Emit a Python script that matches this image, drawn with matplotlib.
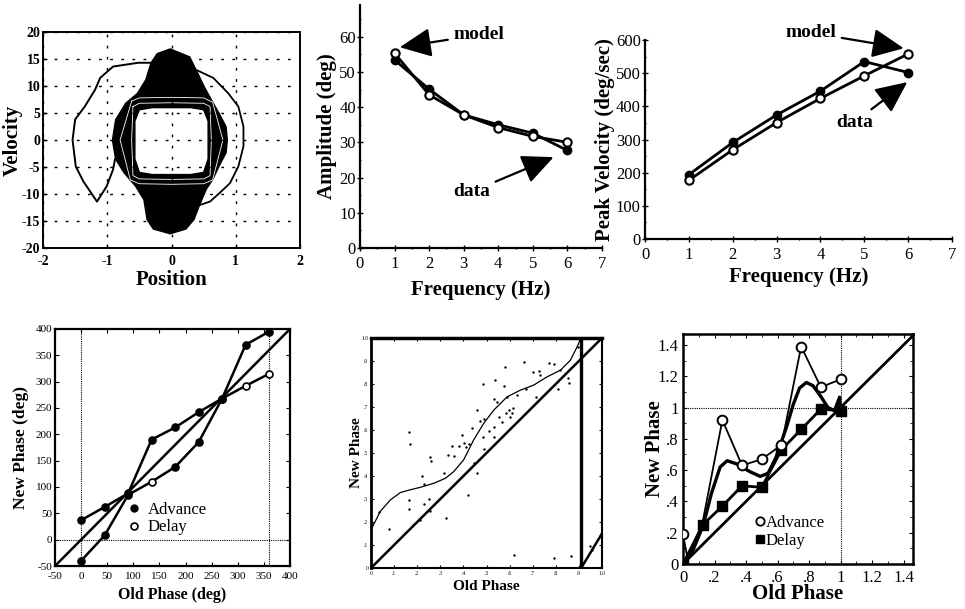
import matplotlib
matplotlib.use("Agg")
import matplotlib.pyplot as plt
from matplotlib.lines import Line2D
from matplotlib.ticker import MultipleLocator

plt.rcParams["font.family"] = ["Liberation Serif", "DejaVu Serif"]
plt.rcParams["xtick.direction"] = "in"
plt.rcParams["ytick.direction"] = "in"
plt.rcParams["axes.unicode_minus"] = False

W, H = 965, 609

# ---- panel 1: phase portrait (position vs velocity) ----
blob_x = [-0.02, 0.29, 0.42, 0.52, 0.63, 0.75, 0.86, 0.88, 0.86, 0.75, 0.65, 0.55, 0.44,
          0.36, 0.23, -0.02, -0.29, -0.39, -0.44, -0.57, -0.75, -0.88, -0.93, -0.88,
          -0.72, -0.54, -0.41, -0.33, -0.23]
blob_y = [17.0, 15.5, 12.4, 9.9, 7.5, 5.0, 2.5, 0.0, -2.4, -4.9, -7.4, -9.2, -12.3,
          -14.8, -16.6, -17.5, -16.6, -14.8, -11.1, -8.6, -6.1, -3.6, 0.0, 3.8,
          6.9, 8.7, 11.2, 14.3, 16.1]
hole_x = [-0.57, -0.5, -0.3, 0.0, 0.3, 0.5, 0.57, 0.57, 0.5, 0.3, 0.0, -0.3, -0.5, -0.57]
hole_y = [3.5, 5.6, 6.0, 6.0, 6.0, 5.6, 3.5, -3.5, -6.0, -6.4, -6.4, -6.4, -6.0, -3.5]
ring1_x = [-0.6, -0.5, 0.0, 0.5, 0.6, 0.62, 0.6, 0.5, 0.0, -0.5, -0.6, -0.62, -0.6]
ring1_y = [6.2, 6.8, 6.9, 6.8, 6.2, 0.0, -6.6, -7.2, -7.3, -7.2, -6.6, 0.0, 6.2]
ring2_x = [-0.62, -0.5, 0.0, 0.5, 0.64, 0.8, 0.64, 0.5, 0.0, -0.5, -0.64, -0.8, -0.62]
ring2_y = [7.2, 7.8, 7.9, 7.8, 7.0, 0.0, -7.4, -8.1, -8.2, -8.1, -7.4, 0.0, 7.2]
cres_x = [-0.3, -0.52, -0.91, -1.11, -1.19, -1.35, -1.50, -1.54, -1.49, -1.37, -1.16,
          -1.01, -0.91, -0.88]
cres_y = [14.3, 14.3, 13.6, 11.5, 9.3, 6.2, 3.8, 0.0, -4.9, -7.7, -11.4, -8.6, -5.5, -3.6]
circ_x = [0.4, 0.65, 0.88, 1.04, 1.12, 1.12, 1.04, 0.91, 0.75, 0.6, 0.45]
circ_y = [12.9, 11.5, 8.7, 6.2, 2.5, -1.2, -4.9, -8.0, -9.8, -11.4, -12.0]

# ---- panel 2: amplitude vs frequency ----
freq = [1, 2, 3, 4, 5, 6]
amp_model = [55.3, 43.5, 37.8, 34.2, 31.7, 30.0]
amp_data = [53.4, 45.1, 37.8, 35.0, 32.6, 27.7]

# ---- panel 3: peak velocity vs frequency ----
vel_model = [177, 269, 351, 424, 492, 558]
vel_data = [194, 291, 374, 446, 535, 502]

# ---- panel 4: phase transition curve (deg) ----
old_deg = [0, 45, 90, 135, 180, 225, 270, 315, 360]
curve_a = [37, 62, 88, 190, 213, 242, 268, 292, 315]
curve_a_filled = [True, True, True, True, True, True, True, False, False]
curve_b = [-40, 8, 85, 110, 138, 185, 268, 370, 395]
curve_b_filled = [True, True, True, False, True, True, True, True, True]

# ---- panel 5: scattered phase resets + smooth fit ----
sc_x = [0.033, 0.076, 0.163, 0.170, 0.163, 0.163, 0.221, 0.228, 0.228, 0.214, 0.250, 0.257,
        0.260, 0.257, 0.326, 0.317, 0.332, 0.351, 0.358, 0.380, 0.394, 0.404, 0.413, 0.423,
        0.437, 0.420, 0.447, 0.459, 0.459, 0.473, 0.488, 0.485, 0.485, 0.488, 0.509, 0.531,
        0.531, 0.534, 0.538, 0.545, 0.553, 0.567, 0.574, 0.581, 0.586, 0.596, 0.603, 0.610,
        0.615, 0.589, 0.632, 0.661, 0.669, 0.700, 0.726, 0.733, 0.716, 0.769, 0.791, 0.808,
        0.856, 0.851, 0.820, 0.618, 0.791, 0.866, 0.895, 0.947, 0.957]
sc_y = [0.243, 0.169, 0.592, 0.539, 0.296, 0.256, 0.400, 0.364, 0.279, 0.210, 0.301, 0.484,
        0.467, 0.246, 0.217, 0.412, 0.491, 0.530, 0.487, 0.530, 0.578, 0.542, 0.527, 0.539,
        0.607, 0.318, 0.455, 0.412, 0.686, 0.640, 0.646, 0.798, 0.571, 0.516, 0.597, 0.733,
        0.614, 0.571, 0.819, 0.723, 0.658, 0.636, 0.791, 0.874, 0.672, 0.686, 0.658, 0.675,
        0.694, 0.744, 0.751, 0.896, 0.777, 0.853, 0.857, 0.838, 0.744, 0.892, 0.889, 0.780,
        0.805, 0.824, 0.860, 0.058, 0.043, 0.051, 0.961, 0.094, 0.078]
fit_x = [0.0, 0.04, 0.084, 0.127, 0.17, 0.214, 0.271, 0.322, 0.358, 0.401, 0.444, 0.488,
         0.531, 0.589, 0.646, 0.704, 0.762, 0.82, 0.863, 0.892, 0.906]
fit_y = [0.166, 0.246, 0.296, 0.328, 0.34, 0.351, 0.368, 0.39, 0.419, 0.47, 0.556, 0.629,
         0.686, 0.744, 0.773, 0.795, 0.831, 0.86, 0.903, 0.961, 0.993]

# ---- panel 6: phase transition curve (normalised) ----
adv_x = [0.0, 0.03, 0.125, 0.25, 0.375, 0.5, 0.625, 0.75, 0.875, 1.0]
adv_y = [0.19, 0.03, 0.27, 0.92, 0.63, 0.67, 0.76, 1.39, 1.13, 1.18]
adv_mark_x = [0.0, 0.25, 0.375, 0.5, 0.625, 0.75, 0.875, 1.0]
adv_mark_y = [0.19, 0.92, 0.63, 0.67, 0.76, 1.39, 1.13, 1.18]
del_x = [0.0, 0.125, 0.25, 0.375, 0.5, 0.625, 0.75, 0.875, 1.0]
del_y = [0.0, 0.25, 0.37, 0.50, 0.49, 0.73, 0.86, 0.99, 0.98]
smooth_x = [0.0, 0.06, 0.109, 0.137, 0.18, 0.236, 0.28, 0.34, 0.425, 0.49, 0.54, 0.59,
            0.657, 0.70, 0.74, 0.783, 0.825, 0.878, 0.92, 0.962, 0.994, 1.0]
smooth_y = [0.0, 0.08, 0.20, 0.28, 0.45, 0.62, 0.66, 0.64, 0.59, 0.56, 0.58, 0.68,
            0.875, 1.02, 1.125, 1.16, 1.14, 1.066, 1.0, 0.98, 1.066, 0.99]


def axes_px(fig, x0, y0, x1, y1):
    return fig.add_axes([x0 / W, 1 - y1 / H, (x1 - x0) / W, (y1 - y0) / H])


def arrow(ax, text, xy, xytext, ha="left"):
    ax.annotate(text, xy=xy, xytext=xytext, fontsize=14, fontweight="bold",
                ha=ha, va="center", annotation_clip=False,
                arrowprops=dict(arrowstyle="-|>,head_length=1.3,head_width=0.6",
                                color="black", lw=1.6, shrinkA=2, shrinkB=0,
                                mutation_scale=15))


fig = plt.figure(figsize=(W / 100, H / 100), dpi=100)

# ---------------- panel 1 ----------------
ax1 = axes_px(fig, 43, 32, 300, 248)
ax1.fill(blob_x, blob_y, color="black", zorder=1.2, lw=0)
ax1.fill(hole_x, hole_y, color="white", zorder=1.3, lw=1.0, ec="black")
ax1.plot(ring1_x, ring1_y, color="white", lw=0.6, zorder=1.4)
ax1.plot(ring2_x, ring2_y, color="white", lw=0.6, zorder=1.4)
ax1.plot(cres_x, cres_y, color="black", lw=1.4, zorder=2)
ax1.plot(circ_x, circ_y, color="black", lw=1.3, zorder=2)
ax1.set_xlim(-2, 2)
ax1.set_ylim(-20, 20)
ax1.set_xticks([-2, -1, 0, 1, 2])
ax1.set_yticks(range(-20, 21, 5))
ax1.grid(True, color="black", ls=(0, (2, 6)), lw=1.0, zorder=1.5)
ax1.set_axisbelow(False)
ax1.tick_params(labelsize=10, length=3, width=1.0)
ax1.tick_params(axis="x", pad=5)
ax1.tick_params(axis="y", pad=2)
for lab in ax1.get_xticklabels() + ax1.get_yticklabels():
    lab.set_fontweight("bold")
for s in ax1.spines.values():
    s.set_linewidth(1.4)
ax1.set_xlabel("Position", fontsize=15, fontweight="bold", va="center")
ax1.xaxis.set_label_coords(0.5, (248 - 280) / 216)
ax1.set_ylabel("Velocity", fontsize=15, fontweight="bold", va="center")
ax1.yaxis.set_label_coords((13 - 43) / 257, 0.5)

# ---------------- panel 2 ----------------
ax2 = axes_px(fig, 360, 5, 602, 248)
ax2.plot(freq, amp_model, color="black", lw=2.0, marker="o", ms=6, mfc="white",
         mec="black", mew=1.5, zorder=3)
ax2.plot(freq, amp_data, color="black", lw=2.0, marker="o", ms=6, mfc="black",
         mec="black", zorder=2)
ax2.set_xlim(0, 7)
ax2.set_ylim(0, 69)
ax2.set_xticks(range(0, 8))
ax2.set_yticks(range(0, 61, 10))
ax2.xaxis.set_minor_locator(MultipleLocator(0.5))
ax2.yaxis.set_minor_locator(MultipleLocator(5))
ax2.tick_params(which="both", direction="inout", labelsize=12, length=4, width=1.0)
ax2.tick_params(which="minor", length=2)
ax2.tick_params(axis="y", pad=1)
ax2.spines["top"].set_visible(False)
ax2.spines["right"].set_visible(False)
for s in ("left", "bottom"):
    ax2.spines[s].set_linewidth(1.6)
ax2.set_xlabel("Frequency (Hz)", fontsize=15, fontweight="bold", va="center")
ax2.xaxis.set_label_coords(0.5, (248 - 290) / 243)
ax2.set_ylabel("Amplitude (deg)", fontsize=15, fontweight="bold", va="center")
ax2.yaxis.set_label_coords((327 - 360) / 242, 0.5)
arrow(ax2, "model", xy=(1.15, 57), xytext=(2.7, 60.5))
arrow(ax2, "data", xy=(5.6, 25.8), xytext=(2.7, 16))

# ---------------- panel 3 ----------------
ax3 = axes_px(fig, 645, 40, 952, 239)
ax3.plot(freq, vel_model, color="black", lw=2.0, marker="o", ms=6, mfc="white",
         mec="black", mew=1.5, zorder=3)
ax3.plot(freq, vel_data, color="black", lw=2.0, marker="o", ms=6, mfc="black",
         mec="black", zorder=2)
ax3.set_xlim(0, 7)
ax3.set_ylim(0, 600)
ax3.set_xticks(range(0, 8))
ax3.set_yticks(range(0, 601, 100))
ax3.xaxis.set_minor_locator(MultipleLocator(0.5))
ax3.yaxis.set_minor_locator(MultipleLocator(50))
ax3.tick_params(which="both", direction="inout", labelsize=12, length=4, width=1.0)
ax3.tick_params(which="minor", length=2)
ax3.tick_params(axis="y", pad=1)
ax3.spines["top"].set_visible(False)
ax3.spines["right"].set_visible(False)
for s in ("left", "bottom"):
    ax3.spines[s].set_linewidth(1.6)
ax3.set_xlabel("Frequency (Hz)", fontsize=15, fontweight="bold", va="center")
ax3.xaxis.set_label_coords(0.5, (239 - 277) / 199)
ax3.set_ylabel("Peak Velocity (deg/sec)", fontsize=15, fontweight="bold", va="center")
ax3.yaxis.set_label_coords((605 - 645) / 307, 0.5)
arrow(ax3, "model", xy=(5.9, 575), xytext=(3.2, 622))
arrow(ax3, "data", xy=(5.98, 473), xytext=(4.35, 352))

# ---------------- panel 4 ----------------
ax4 = axes_px(fig, 55, 329, 290, 566)
ax4.plot([-50, 400], [-50, 400], color="black", lw=1.8)
ax4.plot(old_deg, curve_a, color="black", lw=1.8)
ax4.plot(old_deg, curve_b, color="black", lw=1.8)
for xs, ys, fl in ((old_deg, curve_a, curve_a_filled), (old_deg, curve_b, curve_b_filled)):
    for x, y, f in zip(xs, ys, fl):
        ax4.plot(x, y, marker="o", ms=5, mec="black", mew=1.2,
                 mfc="black" if f else "white", zorder=3)
ax4.axvline(0, color="black", ls=(0, (1, 1)), lw=0.8)
ax4.axvline(360, color="black", ls=(0, (1, 1)), lw=0.8)
ax4.axhline(0, color="black", ls=(0, (1, 1)), lw=0.8)
ax4.set_xlim(-50, 400)
ax4.set_ylim(-50, 400)
ax4.set_xticks(range(-50, 401, 50))
ax4.set_yticks(range(-50, 401, 50))
ax4.tick_params(labelsize=8, length=3, top=True, right=True)
ax4.tick_params(axis="x", pad=4)
ax4.tick_params(axis="y", pad=2)
for s in ax4.spines.values():
    s.set_linewidth(1.6)
ax4.set_xlabel("Old Phase (deg)", fontsize=11.5, fontweight="bold", va="center")
ax4.xaxis.set_label_coords(0.5, (566 - 595) / 237)
ax4.set_ylabel("New Phase (deg)", fontsize=12.5, fontweight="bold", va="center")
ax4.yaxis.set_label_coords((21 - 55) / 235, 0.5)
leg4 = [Line2D([], [], ls="none", marker="o", ms=5, mfc="black", mec="black"),
        Line2D([], [], ls="none", marker="o", ms=5, mfc="white", mec="black", mew=1.2)]
ax4.legend(leg4, ["Advance", "Delay"], loc="center left", bbox_to_anchor=(0.28, 0.2),
           frameon=False, fontsize=12, handlelength=0.6, handletextpad=0.5,
           labelspacing=0.1, borderpad=0)

# ---------------- panel 5 ----------------
ax5 = axes_px(fig, 371, 338, 602, 568)
ax5.plot([0, 1], [0, 1], color="black", lw=1.8)
ax5.plot([0.91, 1.0], [0.0, 0.15], color="black", lw=1.8)
ax5.plot([0.91, 0.91], [0, 1], color="black", lw=2.4)
ax5.plot(fit_x, fit_y, color="black", lw=0.9)
ax5.scatter(sc_x, sc_y, s=3, color="black", lw=0)
ax5.set_xlim(0, 1)
ax5.set_ylim(0, 1)
ticks5 = [i / 10 for i in range(11)]
labels5 = ["0", ".1", ".2", ".3", ".4", ".5", ".6", ".7", ".8", ".9", "1.0"]
ax5.set_xticks(ticks5, labels5)
ax5.set_yticks(ticks5, labels5)
ax5.xaxis.set_minor_locator(MultipleLocator(0.05))
ax5.yaxis.set_minor_locator(MultipleLocator(0.05))
ax5.tick_params(which="both", labelsize=4, length=2, top=True, right=True, pad=2)
ax5.tick_params(which="minor", length=1)
for s in ax5.spines.values():
    s.set_linewidth(1.5)
ax5.spines["top"].set_linewidth(2.5)
ax5.spines["left"].set_linewidth(2.0)
ax5.set_xlabel("Old Phase", fontsize=11, fontweight="bold", va="center")
ax5.xaxis.set_label_coords(0.5, (568 - 587) / 230)
ax5.set_ylabel("New Phase", fontsize=11, fontweight="bold", va="center")
ax5.yaxis.set_label_coords((357 - 371) / 231, 0.5)

# ---------------- panel 6 ----------------
ax6 = axes_px(fig, 683, 334, 913, 564)
ax6.plot([0, 1.46], [0, 1.46], color="black", lw=2.0)
ax6.plot(adv_x, adv_y, color="black", lw=1.3)
ax6.plot(smooth_x, smooth_y, color="black", lw=2.4)
ax6.plot(del_x, del_y, color="black", lw=2.0, marker="s", ms=7, mfc="black",
         mec="black", zorder=3)
ax6.plot(adv_mark_x, adv_mark_y, ls="none", marker="o", ms=7, mfc="white",
         mec="black", mew=1.4, zorder=4)
ax6.axvline(1.0, color="black", ls=(0, (1, 1)), lw=0.8)
ax6.axhline(1.0, color="black", ls=(0, (1, 1)), lw=0.8)
ax6.set_xlim(0, 1.46)
ax6.set_ylim(0, 1.47)
ax6.set_xticks([0, 0.2, 0.4, 0.6, 0.8, 1.0, 1.2, 1.4],
               ["0", ".2", ".4", ".6", ".8", "1", "1.2", "1.4"])
ax6.set_yticks([0, 0.2, 0.4, 0.6, 0.8, 1.0, 1.2, 1.4],
               ["0", ".2", ".4", ".6", ".8", "1", "1.2", "1.4"])
ax6.xaxis.set_minor_locator(MultipleLocator(0.1))
ax6.yaxis.set_minor_locator(MultipleLocator(0.1))
ax6.tick_params(which="both", labelsize=12, length=3, top=True, right=True)
ax6.tick_params(axis="x", pad=4)
ax6.tick_params(axis="y", pad=3)
ax6.tick_params(which="minor", length=2)
for s in ax6.spines.values():
    s.set_linewidth(1.8)
ax6.set_xlabel("Old Phase", fontsize=15, fontweight="bold", va="center")
ax6.xaxis.set_label_coords(0.5, (564 - 594) / 230)
ax6.set_ylabel("New Phase", fontsize=15, fontweight="bold", va="center")
ax6.yaxis.set_label_coords((655 - 683) / 230, 0.5)
leg6 = [Line2D([], [], ls="none", marker="o", ms=6, mfc="white", mec="black", mew=1.3),
        Line2D([], [], ls="none", marker="s", ms=6, mfc="black", mec="black")]
ax6.legend(leg6, ["Advance", "Delay"], loc="center left", bbox_to_anchor=(0.28, 0.14),
           frameon=False, fontsize=12, handlelength=0.5, handletextpad=0.1,
           labelspacing=0.15, borderpad=0)

fig.savefig("out.png", dpi=100)
